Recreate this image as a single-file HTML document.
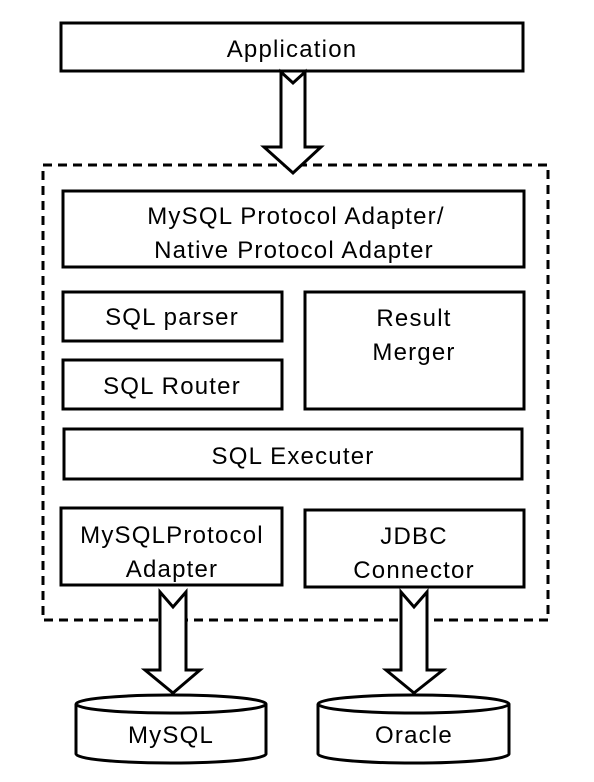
<!DOCTYPE html>
<html><head><style>html,body{margin:0;padding:0;background:#fff;}</style></head>
<body>
<svg width="594" height="777" viewBox="0 0 594 777" xmlns="http://www.w3.org/2000/svg" font-family="Liberation Sans, sans-serif" font-size="24" fill="none" stroke="#000">
<rect x="0" y="0" width="594" height="777" fill="#fff" stroke="none"/>
<rect x="43" y="165" width="505" height="455" stroke-width="3" stroke-dasharray="9,6"/>
<g stroke-width="3" fill="#fff">
<rect x="61" y="23" width="462" height="48"/>
<rect x="63" y="191" width="461" height="76"/>
<rect x="63" y="292" width="219" height="49"/>
<rect x="63" y="360" width="219" height="49"/>
<rect x="305" y="292" width="219" height="117"/>
<rect x="64" y="429" width="458" height="50"/>
<rect x="61" y="508" width="221" height="77"/>
<rect x="305" y="510" width="219" height="77"/>
<path d="M281 72 L293 83 L305 72 L305 147 L321 147 L293 173 L264 147 L281 147 Z"/>
<path d="M160 592 L173 607 L186 592 L186 670 L200 670 L173 693 L145 670 L160 670 Z"/>
<path d="M401 592 L414 607 L427 592 L427 670 L443 670 L414 693 L386 670 L401 670 Z"/>
<path d="M76 704 L76 754 A95 9 0 0 0 266 754 L266 704"/>
<ellipse cx="171" cy="704" rx="95" ry="9"/>
<path d="M318 704 L318 754 A95 9 0 0 0 509 754 L509 704"/>
<ellipse cx="413.5" cy="704" rx="95.5" ry="9"/>
</g>
<g fill="#000" stroke="none" text-anchor="middle" letter-spacing="1.2">
<text x="292" y="57">Application</text>
<text x="296" y="224">MySQL Protocol Adapter/</text>
<text x="294" y="258">Native Protocol Adapter</text>
<text x="172" y="325">SQL parser</text>
<text x="172" y="394">SQL Router</text>
<text x="414" y="326">Result</text>
<text x="414" y="360">Merger</text>
<text x="293" y="464">SQL Executer</text>
<text x="172" y="543">MySQLProtocol</text>
<text x="172" y="577">Adapter</text>
<text x="414" y="544">JDBC</text>
<text x="414" y="578">Connector</text>
<text x="171" y="743">MySQL</text>
<text x="414" y="743">Oracle</text>
</g>
</svg>
</body></html>
